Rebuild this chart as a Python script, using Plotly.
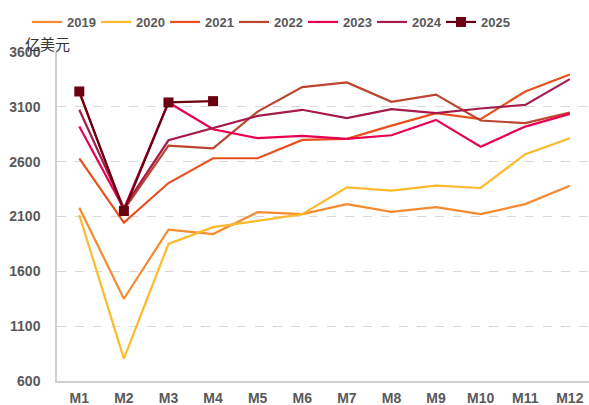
import plotly.graph_objects as go

months = ["M1", "M2", "M3", "M4", "M5", "M6", "M7", "M8", "M9", "M10", "M11", "M12"]
years = ["2019", "2020", "2021", "2022", "2023", "2024", "2025"]

v2019 = [2180, 1350, 1980, 1940, 2140, 2122, 2213, 2143, 2186, 2122, 2213, 2381]
v2020 = [2113, 804, 1850, 2003, 2060, 2122, 2366, 2336, 2381, 2360, 2668, 2814]
v2021 = [2631, 2045, 2405, 2631, 2631, 2798, 2808, 2929, 3042, 2988, 3240, 3395]
v2022 = [3230, 2160, 2746, 2722, 3057, 3280, 3322, 3146, 3212, 2975, 2951, 3048]
v2023 = [2920, 2170, 3140, 2896, 2814, 2835, 2808, 2841, 2981, 2737, 2920, 3036]
v2024 = [3073, 2180, 2795, 2908, 3018, 3073, 2997, 3079, 3042, 3085, 3118, 3353]
v2025 = [3240, 2150, 3140, 3152]

series = [v2019, v2020, v2021, v2022, v2023, v2024, v2025]
colors = ["#F58A2E", "#FDBA2C", "#E8501E", "#BC4530", "#E8004E", "#A51C4A", "#6B0010"]

fig = go.Figure()
for name, vals, col in zip(years, series, colors):
    is_last = name == "2025"
    fig.add_trace(go.Scatter(
        x=months[:len(vals)], y=vals, name=name,
        mode="lines+markers" if is_last else "lines",
        line=dict(color=col, width=2.2),
        marker=dict(symbol="square", size=10, color=col) if is_last else None,
    ))

legfont = dict(family="Liberation Sans, Arial, sans-serif", size=13, color="#595959", weight="bold")
tickfont = dict(family="Liberation Sans, Arial, sans-serif", size=14, color="#595959", weight="bold")

fig.update_layout(
    width=589, height=405,
    margin=dict(l=57, r=0, t=52, b=24, autoexpand=False),
    paper_bgcolor="white", plot_bgcolor="white",
    font=dict(family="Liberation Sans, Arial, sans-serif", size=13, color="#595959"),
    showlegend=True,
    legend=dict(
        orientation="h", xref="container", x=27 / 589, xanchor="left",
        yref="container", y=1 - 22 / 405, yanchor="middle",
        itemwidth=30, entrywidth=24, entrywidthmode="pixels",
        font=legfont, traceorder="normal", itemclick=False, tracegroupgap=0,
    ),
    xaxis=dict(
        type="category", categoryorder="array", categoryarray=months,
        range=[-0.5, 11.43], showgrid=False, showline=True, linecolor="#D0D0D0", linewidth=1.5,
        ticks="", ticklen=0, ticklabelstandoff=3, tickfont=tickfont, zeroline=False,
        automargin=False,
    ),
    yaxis=dict(
        range=[600, 3600], tickvals=[600, 1100, 1600, 2100, 2600, 3100, 3600],
        showgrid=True, gridcolor="#D9D9D9", griddash="dash", gridwidth=1,
        showline=True, linecolor="#D0D0D0", linewidth=1.5, zeroline=False,
        ticks="", ticklen=0, ticklabelstandoff=12, tickfont=tickfont, automargin=False,
    ),
    annotations=[dict(
        text="亿美元", xref="paper", yref="paper", x=-34 / 532, y=1.0, xanchor="left", yanchor="middle",
        yshift=9, showarrow=False, font=dict(family="Noto Sans CJK SC", size=15, color="#333333"),
    )],
)

fig.write_html(
    "out.html",
    config={"displayModeBar": False},
    post_script="document.body.style.margin='0';document.body.style.overflow='hidden';",
)
